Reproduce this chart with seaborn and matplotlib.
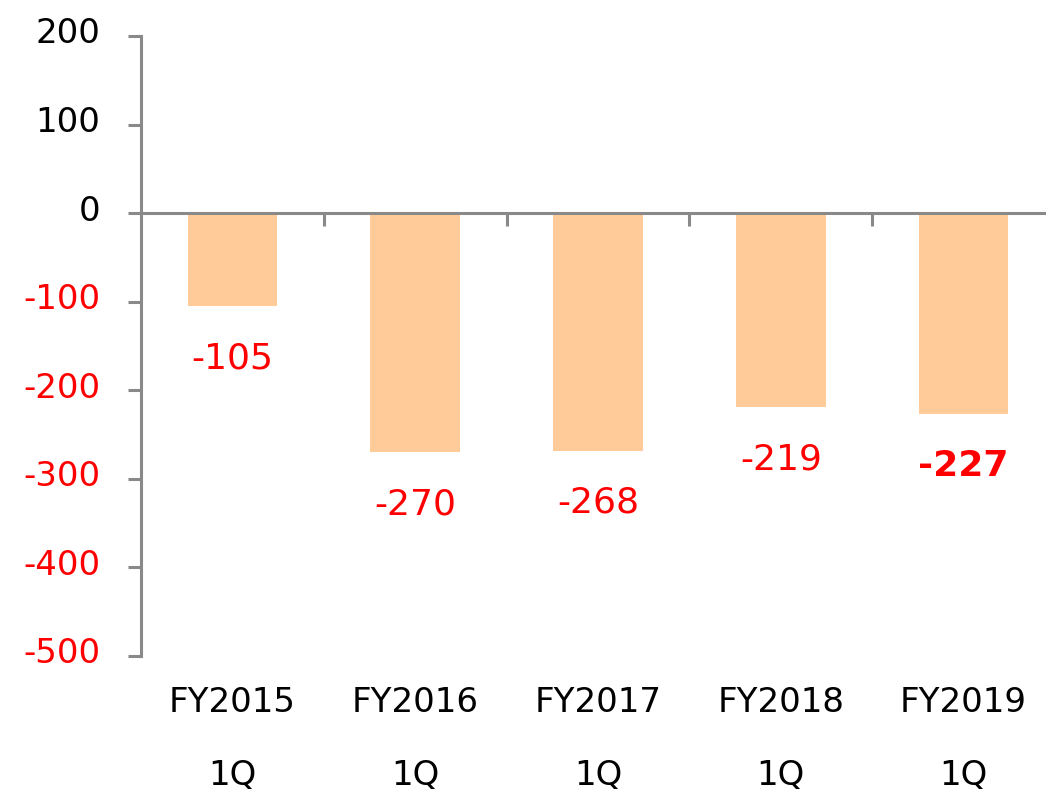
import matplotlib
matplotlib.use("Agg")
import matplotlib.pyplot as plt
import matplotlib.transforms as mtransforms
import seaborn as sns
import pandas as pd

# ---- data ----
years = ["FY2015", "FY2016", "FY2017", "FY2018", "FY2019"]
quarters = ["1Q", "1Q", "1Q", "1Q", "1Q"]
values = [-105, -270, -268, -219, -227]
bold_label = [False, False, False, False, True]
y_ticks = [200, 100, 0, -100, -200, -300, -400, -500]

BAR = "#FFCC99"
GREY = "#898989"
RED = "#FF0000"

sns.set_theme(style="white")
plt.rcParams['font.family'] = ['DejaVu Sans']

W, H = 1046, 793
fig = plt.figure(figsize=(W / 100, H / 100), dpi=100)
fig.patch.set_facecolor("white")
ax = fig.add_axes([141 / W, 137 / H, (W - 141) / W, 620 / H])

df = pd.DataFrame({"cat": years, "val": values})
sns.barplot(data=df, x="cat", y="val", color=BAR, saturation=1, width=0.49,
            linewidth=0, ax=ax)

ax.set_ylim(-500, 200)
ax.set_xlim(-0.5, 4.5 - 9 / 182.8)
ax.set_xlabel("")
ax.set_ylabel("")

# spines
for s in ["top", "right"]:
    ax.spines[s].set_visible(False)
ax.spines["left"].set_color(GREY)
ax.spines["left"].set_linewidth(2.2)
ax.spines["bottom"].set_position(("data", 0))
ax.spines["bottom"].set_color(GREY)
ax.spines["bottom"].set_linewidth(2.2)
ax.spines["left"].set_zorder(5)
ax.spines["bottom"].set_zorder(5)

# y ticks
ax.set_yticks(y_ticks)
ax.set_yticklabels([str(v) for v in y_ticks])
ax.tick_params(axis="y", direction="out", length=9.4, width=2.2, color=GREY,
               pad=20, labelsize=24.5, left=True)
shift = mtransforms.ScaledTranslation(0, 4 / 72, fig.dpi_scale_trans)
for lab, v in zip(ax.get_yticklabels(), y_ticks):
    lab.set_color(RED if v < 0 else "black")
    lab.set_transform(lab.get_transform() + shift)

# x ticks at category boundaries on the zero line
ax.set_xticks([i + 0.5 for i in range(len(years) - 1)])
ax.set_xticklabels([])
ax.tick_params(axis="x", direction="out", length=9.4, width=2.2, color=GREY,
               bottom=True)

# category labels below the plot
trans = mtransforms.blended_transform_factory(ax.transData, ax.transAxes)
for i, (yr, q) in enumerate(zip(years, quarters)):
    ax.text(i, -0.0758, yr, transform=trans, ha="center", va="center",
            fontsize=24.5, color="black")
    ax.text(i, -0.192, q, transform=trans, ha="center", va="center",
            fontsize=24.5, color="black")

# value labels
for i, (v, b) in enumerate(zip(values, bold_label)):
    ax.annotate(f"{v}", xy=(i, v), xytext=(0, -37.5), textcoords="offset points",
                ha="center", va="center", fontsize=26, color=RED,
                fontweight="bold" if b else "normal")

fig.savefig("out.png", dpi=100, facecolor="white")
